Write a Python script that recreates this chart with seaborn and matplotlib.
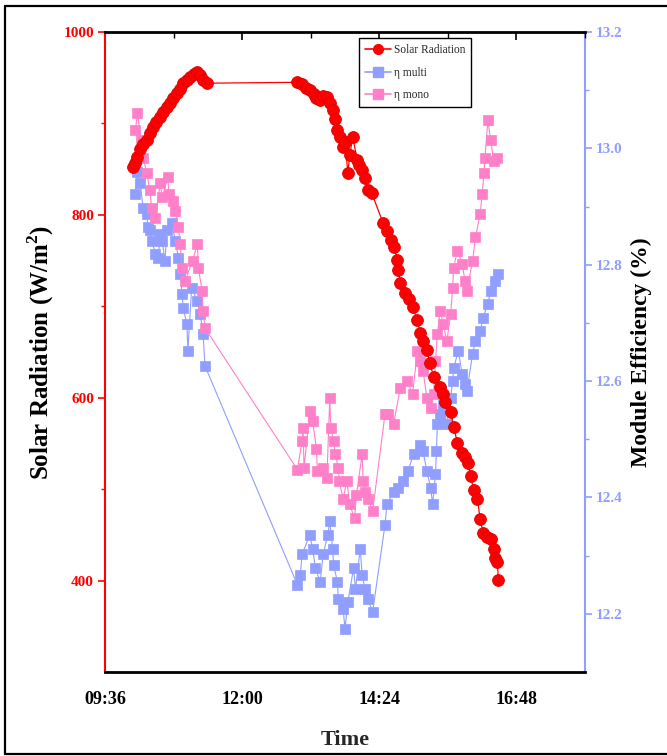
import matplotlib
matplotlib.use("Agg")
import matplotlib.pyplot as plt
import matplotlib.ticker as mticker
from matplotlib.lines import Line2D
from matplotlib.patches import Rectangle
import seaborn as sns
import pandas as pd

# ---- data ----
rad_time = ["10:05", "10:08", "10:10", "10:13", "10:16", "10:20", "10:23", "10:26", "10:30",
            "10:34", "10:37", "10:41", "10:44", "10:47", "10:52", "10:55", "10:58", "11:02",
            "11:05", "11:09", "11:13", "11:16", "11:19", "11:23",
            "12:58", "13:03", "13:07", "13:11", "13:15", "13:18", "13:22", "13:25", "13:29",
            "13:32", "13:35", "13:38", "13:40", "13:43", "13:46", "13:48", "13:51", "13:53",
            "13:56", "14:01", "14:03", "14:06", "14:09", "14:12", "14:16",
            "14:28", "14:32", "14:36", "14:39", "14:43", "14:44", "14:46", "14:51", "14:55",
            "14:59", "15:04", "15:07", "15:10", "15:14", "15:17", "15:21", "15:28", "15:31",
            "15:33", "15:39", "15:42", "15:46", "15:51", "15:54", "15:57", "16:00", "16:03",
            "16:07", "16:10", "16:13", "16:17", "16:21", "16:24", "16:26", "16:28", "16:29"]
rad_vals = [852, 857, 863, 872, 878, 882, 890, 896, 902,
            907, 912, 918, 922, 928, 933, 938, 944, 948,
            951, 954, 956, 953, 948, 944,
            945, 943, 939, 937, 932, 928, 926, 930, 929,
            922, 915, 905, 893, 885, 874, 880, 846, 865,
            885, 860, 855, 849, 840, 827, 824,
            791, 782, 773, 765, 751, 740, 726, 715, 708,
            699, 685, 671, 662, 652, 638, 623, 612, 604,
            595, 584, 568, 551, 540, 535, 529, 514, 499,
            489, 467, 452, 448, 445, 434, 425, 420, 401]

multi_time = ["10:08", "10:10", "10:13", "10:16", "10:20", "10:21", "10:23", "10:25", "10:29",
              "10:32", "10:34", "10:36", "10:39", "10:41", "10:46", "10:50", "10:53", "10:55",
              "10:57", "10:58", "11:02", "11:03", "11:07", "11:13", "11:16", "11:19", "11:21",
              "12:58", "13:01", "13:03", "13:11", "13:14", "13:17", "13:22", "13:25", "13:30",
              "13:32", "13:35", "13:36", "13:40", "13:41", "13:46", "13:48", "13:51", "13:57",
              "13:59", "14:04", "14:06", "14:09", "14:12", "14:17",
              "14:30", "14:32", "14:39", "14:44", "14:49", "14:54", "15:00", "15:07", "15:10",
              "15:14", "15:18", "15:20", "15:23", "15:24", "15:25", "15:28", "15:31", "15:35",
              "15:39", "15:41", "15:42", "15:47", "15:51", "15:54", "15:56", "16:02", "16:05",
              "16:10", "16:13", "16:18", "16:21", "16:26", "16:29"]
multi_vals = [12.922, 12.959, 12.940, 12.898, 12.888, 12.864, 12.859, 12.841, 12.819,
              12.812, 12.853, 12.841, 12.807, 12.859, 12.871, 12.841, 12.812, 12.784,
              12.750, 12.726, 12.698, 12.652, 12.760, 12.738, 12.716, 12.681, 12.626,
              12.250, 12.267, 12.302, 12.336, 12.312, 12.278, 12.255, 12.302, 12.336,
              12.359, 12.312, 12.284, 12.255, 12.226, 12.209, 12.174, 12.221, 12.278,
              12.243, 12.312, 12.267, 12.243, 12.226, 12.203,
              12.353, 12.388, 12.410, 12.416, 12.428, 12.445, 12.474, 12.491, 12.479,
              12.445, 12.416, 12.388, 12.440, 12.479, 12.526, 12.543, 12.560, 12.526,
              12.571, 12.600, 12.622, 12.652, 12.612, 12.595, 12.583, 12.647, 12.669,
              12.686, 12.709, 12.733, 12.755, 12.772, 12.784]

mono_time = ["10:08", "10:10", "10:14", "10:16", "10:20", "10:23", "10:25", "10:29", "10:34",
             "10:36", "10:42", "10:43", "10:47", "10:50", "10:53", "10:55", "10:57", "11:00",
             "11:08", "11:13", "11:14", "11:18", "11:19", "11:21",
             "12:58", "13:03", "13:04", "13:05", "13:11", "13:14", "13:18", "13:19", "13:25",
             "13:29", "13:32", "13:33", "13:36", "13:38", "13:41", "13:42", "13:46", "13:50",
             "13:53", "13:58", "14:00", "14:06", "14:07", "14:09", "14:12", "14:17",
             "14:30", "14:33", "14:39", "14:46", "14:53", "14:59", "15:04", "15:07", "15:10",
             "15:14", "15:18", "15:21", "15:23", "15:25", "15:28", "15:31", "15:35", "15:39",
             "15:41", "15:42", "15:46", "15:51", "15:54", "15:56", "16:02", "16:05", "16:10",
             "16:12", "16:14", "16:15", "16:18", "16:21", "16:24", "16:28"]
mono_vals = [13.031, 13.060, 13.014, 12.984, 12.957, 12.928, 12.898, 12.881, 12.940,
             12.916, 12.950, 12.922, 12.910, 12.893, 12.864, 12.836, 12.795, 12.772,
             12.807, 12.836, 12.795, 12.755, 12.721, 12.691,
             12.448, 12.497, 12.519, 12.450, 12.548, 12.531, 12.484, 12.445, 12.450,
             12.433, 12.571, 12.519, 12.497, 12.474, 12.450, 12.428, 12.398, 12.428,
             12.388, 12.364, 12.405, 12.474, 12.428, 12.410, 12.398, 12.376,
             12.543, 12.543, 12.526, 12.588, 12.600, 12.578, 12.652, 12.634, 12.617,
             12.571, 12.553, 12.578, 12.634, 12.681, 12.721, 12.698, 12.669, 12.716,
             12.760, 12.795, 12.824, 12.802, 12.772, 12.755, 12.807, 12.847, 12.888,
             12.922, 12.957, 12.984, 13.048, 13.014, 12.979, 12.984]

x_ticks = ["09:36", "12:00", "14:24", "16:48"]

RED = "#ff0000"
BLUE = "#8f9eff"
PINK = "#ff80c8"


def to_hours(t):
    h, m = t.split(":")
    return int(h) + int(m) / 60.0


def hhmm(v, pos=None):
    total = int(round(v * 60))
    return f"{total // 60:02d}:{total % 60:02d}"


rad = pd.DataFrame({"t": [to_hours(t) for t in rad_time], "v": rad_vals})
multi = pd.DataFrame({"t": [to_hours(t) for t in multi_time], "v": multi_vals})
mono = pd.DataFrame({"t": [to_hours(t) for t in mono_time], "v": mono_vals})

sns.set_style("white")
plt.rcParams["font.family"] = ["Liberation Serif", "DejaVu Serif"]
plt.rcParams["mathtext.fontset"] = "custom"
plt.rcParams["mathtext.rm"] = "Liberation Serif"
plt.rcParams["mathtext.bf"] = "Liberation Serif:bold"

fig = plt.figure(figsize=(6.67, 7.56), dpi=100)
ax = fig.add_axes([105 / 667, 84 / 756, 480 / 667, 640 / 756])
ax2 = ax.twinx()

# efficiency series on the twin axis (drawn below the radiation curve)
sns.lineplot(data=multi, x="t", y="v", ax=ax2, color=BLUE, marker="s", markersize=7.5,
             markeredgecolor=BLUE, markeredgewidth=0.5, linewidth=0.8,
             estimator=None, sort=False, legend=False)
sns.lineplot(data=mono, x="t", y="v", ax=ax2, color=PINK, marker="s", markersize=7.5,
             markeredgecolor=PINK, markeredgewidth=0.5, linewidth=0.8,
             estimator=None, sort=False, legend=False)
sns.lineplot(data=rad, x="t", y="v", ax=ax, color=RED, marker="o", markersize=8.5,
             markeredgecolor="#e00000", markeredgewidth=0.6, linewidth=0.9,
             estimator=None, sort=False, legend=False)

ax.set_zorder(ax2.get_zorder() + 1)
ax.patch.set_visible(False)

# x axis
ax.set_xlim(9.6, 18.0)
ax.set_xticks([to_hours(t) for t in x_ticks])
ax.xaxis.set_major_formatter(mticker.FuncFormatter(hhmm))
ax.xaxis.set_minor_locator(mticker.FixedLocator([10.8, 13.2, 15.6, 18.0]))
ax.tick_params(axis="x", which="both", direction="out", colors="black", labelsize=13, pad=8,
               top=True, labeltop=False)
ax.tick_params(axis="x", which="major", length=6, width=1.2)
ax.tick_params(axis="x", which="minor", length=4, width=1.0)
for lab in ax.get_xticklabels():
    lab.set_fontweight("bold")
ax.set_xlabel("Time", fontsize=16, fontweight="bold")
ax.xaxis.set_label_coords(0.5, -0.09)

# left axis
ax.set_ylim(300, 1000)
ax.set_yticks([400, 600, 800, 1000])
ax.yaxis.set_minor_locator(mticker.FixedLocator([500, 700, 900]))
ax.tick_params(axis="y", which="both", direction="out", colors=RED, labelsize=11, pad=3)
ax.tick_params(axis="y", which="major", length=5, width=1.2)
ax.tick_params(axis="y", which="minor", length=3, width=1.0)
for lab in ax.get_yticklabels():
    lab.set_fontweight("bold")
ax.set_ylabel(r"Solar Radiation (W/m$^\mathbf{2}$)", fontsize=18, fontweight="bold", color="black")
ax.yaxis.set_label_coords(-0.103, 0.5)

# right axis
ax2.set_ylim(12.1, 13.2)
ax2.set_yticks([12.2, 12.4, 12.6, 12.8, 13.0, 13.2])
ax2.yaxis.set_major_formatter(mticker.FormatStrFormatter("%.1f"))
ax2.yaxis.set_minor_locator(mticker.FixedLocator([12.3, 12.5, 12.7, 12.9, 13.1]))
ax2.tick_params(axis="y", which="both", direction="out", colors=BLUE, labelsize=11, pad=3)
ax2.tick_params(axis="y", which="major", length=5, width=1.2)
ax2.tick_params(axis="y", which="minor", length=3, width=1.0)
for lab in ax2.get_yticklabels():
    lab.set_fontweight("bold")
ax2.set_ylabel("Module Efficiency (%)", fontsize=17, fontweight="bold", color="black")
ax2.yaxis.set_label_coords(1.096, 0.5)

# spines
ax.spines["left"].set_color(RED)
ax.spines["left"].set_linewidth(1.5)
ax.spines["right"].set_visible(False)
ax.spines["top"].set_color("black")
ax.spines["top"].set_linewidth(2)
ax.spines["bottom"].set_color("black")
ax.spines["bottom"].set_linewidth(2)
ax2.spines["right"].set_color(BLUE)
ax2.spines["right"].set_linewidth(1.5)
ax2.spines["left"].set_visible(False)
ax2.spines["top"].set_visible(False)
ax2.spines["bottom"].set_visible(False)
for t in ax.xaxis.get_major_ticks() + ax.xaxis.get_minor_ticks():
    t.tick2line.set_marker(matplotlib.markers.TICKDOWN)

ax.grid(False)
ax2.grid(False)

# legend
handles = [
    Line2D([], [], color=RED, marker="o", markersize=7, markerfacecolor=RED,
           markeredgecolor=RED, linewidth=1.2),
    Line2D([], [], color=BLUE, marker="s", markersize=6.5, markeredgecolor=BLUE, linewidth=1.2),
    Line2D([], [], color=PINK, marker="s", markersize=6.5, markeredgecolor=PINK, linewidth=1.2),
]
leg = ax.legend(handles, ["Solar Radiation", "\u03b7 multi", "\u03b7 mono"],
                loc="upper left", bbox_to_anchor=(0.53, 0.99), fontsize=8.3,
                frameon=True, fancybox=False, edgecolor="black", framealpha=1,
                handlelength=2.3, handletextpad=0.25, labelspacing=0.95,
                borderpad=0.45, borderaxespad=0)
leg.get_frame().set_linewidth(1.0)

# outer frame of the figure
fig.add_artist(Rectangle((0, 0), 1, 2 / 756, transform=fig.transFigure,
                         facecolor="white", edgecolor="none", zorder=10))
fig.add_artist(Line2D([5 / 667, 5 / 667], [2 / 756, 1 - 6 / 756], transform=fig.transFigure,
                      color="black", linewidth=1.6, zorder=11))
fig.add_artist(Line2D([5 / 667, 1], [1 - 6 / 756, 1 - 6 / 756], transform=fig.transFigure,
                      color="black", linewidth=1.6, zorder=11))
fig.add_artist(Line2D([5 / 667, 1], [2 / 756, 2 / 756], transform=fig.transFigure,
                      color="black", linewidth=1.6, zorder=11))

fig.savefig("out.png", dpi=100)
